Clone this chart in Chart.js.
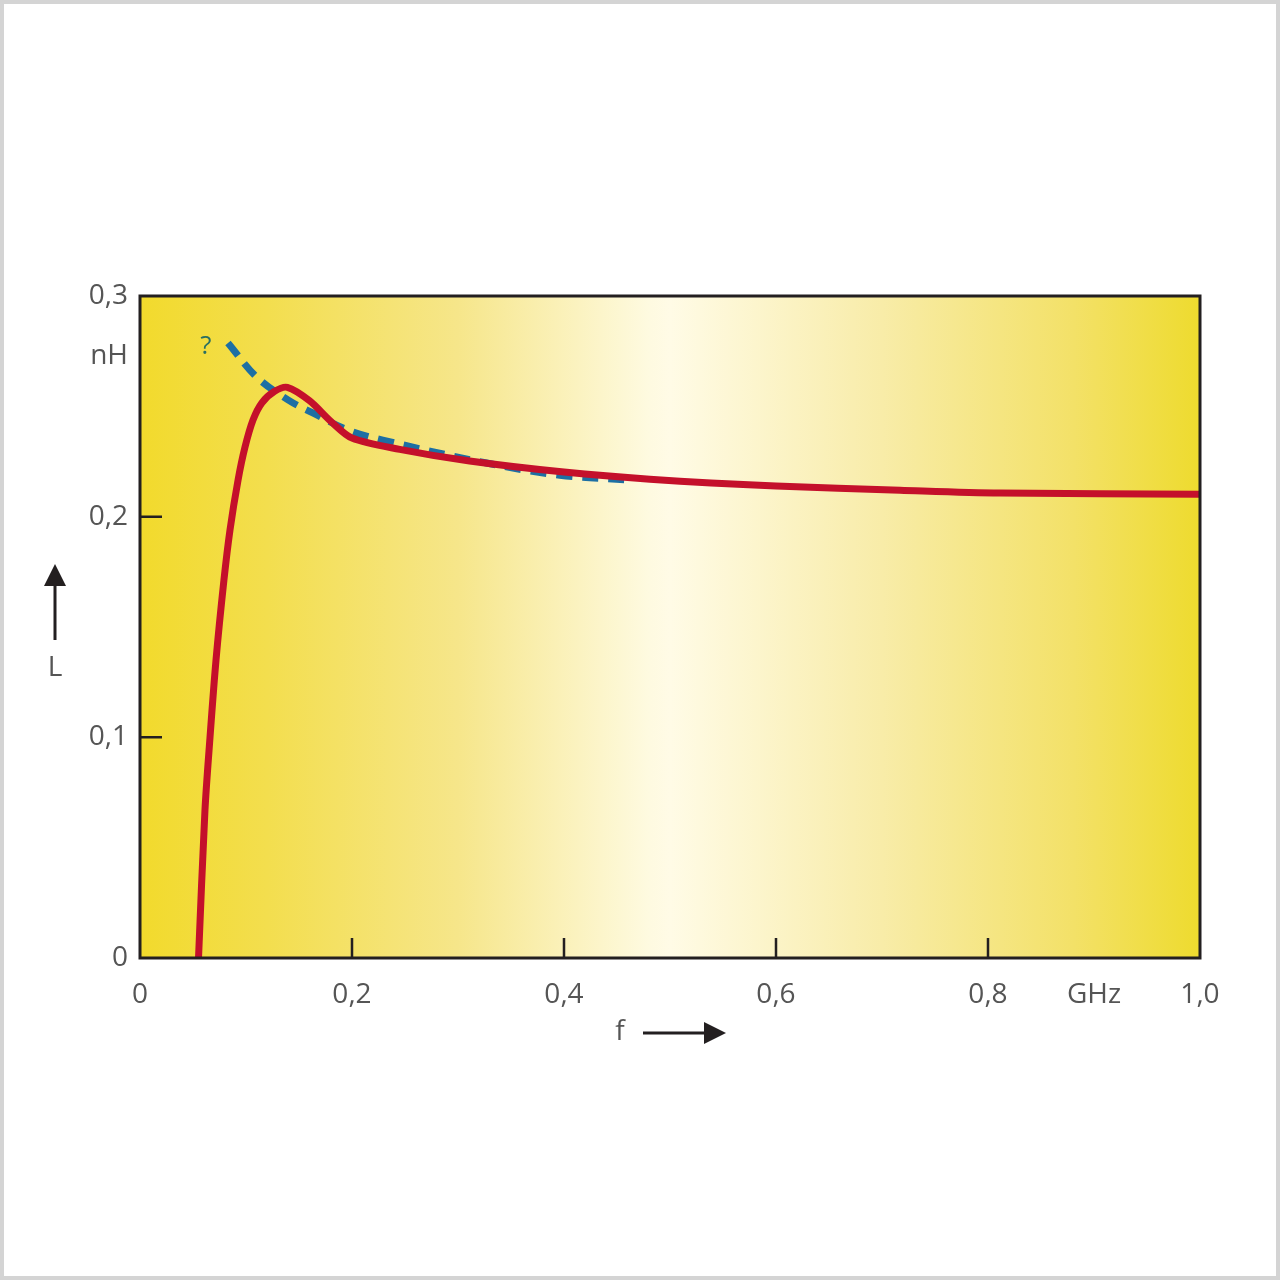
<!DOCTYPE html>
<html>
<head>
<meta charset="utf-8">
<script src="https://cdn.jsdelivr.net/npm/chart.js@4.4.0/dist/chart.umd.min.js"></script>
<style>
  body { margin: 0; background: #fff; }
  canvas { display: block; }
</style>
</head>
<body>
<canvas id="chart" width="1280" height="1280"></canvas>
<script>
// measured curve (red)
const measuredF = [0.0552, 0.0613, 0.066, 0.0717, 0.0792, 0.0849, 0.0925, 0.0991, 0.1066, 0.115, 0.127, 0.139, 0.16, 0.18, 0.2, 0.245, 0.311, 0.4, 0.481, 0.6, 0.717, 0.811, 1.0];
const measuredL = [0, 0.0671, 0.0997, 0.135, 0.1713, 0.194, 0.2166, 0.2316, 0.2438, 0.2516, 0.2568, 0.2586, 0.2525, 0.2432, 0.2356, 0.2305, 0.2252, 0.2202, 0.217, 0.2139, 0.212, 0.2107, 0.2102];

// assumed curve (blue dashed)
const assumedF = [0.083, 0.11, 0.14, 0.163, 0.196, 0.229, 0.327, 0.396, 0.462];
const assumedL = [0.2787, 0.2633, 0.2528, 0.247, 0.2393, 0.2347, 0.2243, 0.2188, 0.2166];

const xTicks = [0, 0.2, 0.4, 0.6, 0.8, 0.9, 1.0];
const xTickLabels = ["0", "0,2", "0,4", "0,6", "0,8", "GHz", "1,0"];
const yTicks = [0, 0.1, 0.2, 0.273, 0.3];
const yTickLabels = ["0", "0,1", "0,2", "nH", "0,3"];
const xMarks = [0.2, 0.4, 0.6, 0.8];
const yMarks = [0.1, 0.2];

const toPoints = (xs, ys) => xs.map((x, i) => ({ x: x, y: ys[i] }));
const labelFont = { family: "'Open Sans', sans-serif", size: 28 };

const decor = {
    id: "decor",
    beforeDraw(chart) {
        const ctx = chart.ctx;
        const a = chart.chartArea;
        ctx.save();
        const g = ctx.createLinearGradient(a.left, 0, a.right, 0);
        g.addColorStop(0, "#f2da2c");
        g.addColorStop(0.12, "#f3de4e");
        g.addColorStop(0.3, "#f6e68a");
        g.addColorStop(0.48, "#fefae0");
        g.addColorStop(0.5, "#fffbe6");
        g.addColorStop(0.7, "#f8eca8");
        g.addColorStop(0.88, "#f3e168");
        g.addColorStop(1, "#eedb2e");
        ctx.fillStyle = g;
        ctx.fillRect(a.left, a.top, a.right - a.left, a.bottom - a.top);
        ctx.restore();
    },
    afterDraw(chart) {
        const ctx = chart.ctx;
        const a = chart.chartArea;
        const xs = chart.scales.x;
        const ys = chart.scales.y;
        ctx.save();
        // outer frame
        ctx.strokeStyle = "#d4d4d4";
        ctx.lineWidth = 4;
        ctx.strokeRect(2, 2, chart.width - 4, chart.height - 4);
        // plot frame
        ctx.strokeStyle = "#231f20";
        ctx.lineWidth = 3;
        ctx.strokeRect(a.left, a.top, a.right - a.left, a.bottom - a.top);
        // inward ticks
        ctx.lineWidth = 2.5;
        ctx.beginPath();
        xMarks.forEach(v => {
            const px = xs.getPixelForValue(v);
            ctx.moveTo(px, a.bottom);
            ctx.lineTo(px, a.bottom - 20);
        });
        yMarks.forEach(v => {
            const py = ys.getPixelForValue(v);
            ctx.moveTo(a.left, py);
            ctx.lineTo(a.left + 22, py);
        });
        ctx.stroke();

        // axis names with arrows
        ctx.fillStyle = "#555";
        ctx.font = "28px 'Open Sans', sans-serif";
        ctx.textAlign = "center";
        ctx.textBaseline = "middle";
        ctx.fillText("f", 620, 1032);
        ctx.fillText("L", 55, 668);
        ctx.strokeStyle = "#231f20";
        ctx.fillStyle = "#231f20";
        ctx.lineWidth = 3;
        ctx.beginPath();
        ctx.moveTo(643, 1033);
        ctx.lineTo(708, 1033);
        ctx.moveTo(55, 640);
        ctx.lineTo(55, 582);
        ctx.stroke();
        ctx.beginPath();
        ctx.moveTo(726, 1033);
        ctx.lineTo(704, 1022);
        ctx.lineTo(704, 1044);
        ctx.closePath();
        ctx.fill();
        ctx.beginPath();
        ctx.moveTo(55, 564);
        ctx.lineTo(44, 586);
        ctx.lineTo(66, 586);
        ctx.closePath();
        ctx.fill();

        // question mark next to the dashed curve
        ctx.fillStyle = "#2a6f62";
        ctx.font = "26px 'Open Sans', sans-serif";
        ctx.fillText("?", xs.getPixelForValue(assumedF[0]) - 22, ys.getPixelForValue(assumedL[0]) + 4);
        ctx.restore();
    }
};

new Chart(document.getElementById("chart"), {
    type: "scatter",
    data: {
        datasets: [
            {
                label: "L measured",
                data: toPoints(measuredF, measuredL),
                showLine: true,
                borderColor: "#c4102b",
                borderWidth: 7,
                pointRadius: 0,
                tension: 0.3,
                borderCapStyle: "butt",
                borderJoinStyle: "round"
            },
            {
                label: "L assumed",
                data: toPoints(assumedF, assumedL),
                showLine: true,
                borderColor: "#1d6fa3",
                borderWidth: 7,
                borderDash: [16, 10],
                pointRadius: 0,
                tension: 0.35
            }
        ]
    },
    options: {
        responsive: false,
        animation: false,
        layout: { padding: { left: 0, top: 296, right: 80, bottom: 242 } },
        plugins: {
            legend: { display: false },
            tooltip: { enabled: false }
        },
        scales: {
            x: {
                type: "linear",
                min: 0,
                max: 1,
                grid: { display: false, drawTicks: false },
                border: { display: false },
                afterBuildTicks: axis => { axis.ticks = xTicks.map(v => ({ value: v })); },
                afterFit: axis => { axis.height = 80; },
                ticks: {
                    autoSkip: false,
                    maxRotation: 0,
                    padding: 20,
                    color: "#555",
                    font: labelFont,
                    callback: v => {
                        const i = xTicks.findIndex(t => Math.abs(t - v) < 1e-6);
                        return i >= 0 ? xTickLabels[i] : "";
                    }
                }
            },
            y: {
                type: "linear",
                min: 0,
                max: 0.3,
                grid: { display: false, drawTicks: false },
                border: { display: false },
                afterBuildTicks: axis => { axis.ticks = yTicks.map(v => ({ value: v })); },
                afterFit: axis => { axis.width = 140; },
                ticks: {
                    autoSkip: false,
                    padding: 12,
                    color: "#555",
                    font: labelFont,
                    callback: v => {
                        const i = yTicks.findIndex(t => Math.abs(t - v) < 1e-6);
                        return i >= 0 ? yTickLabels[i] : "";
                    }
                }
            }
        }
    },
    plugins: [decor]
});
</script>
</body>
</html>
